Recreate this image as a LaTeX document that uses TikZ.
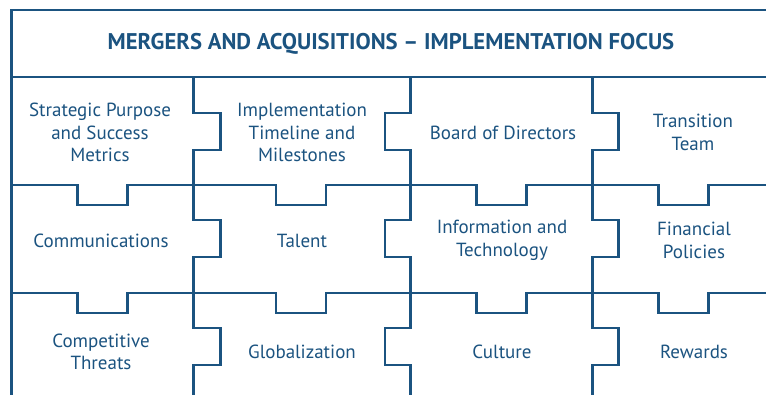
\documentclass[tikz,border=0pt]{standalone}
\usepackage{fontspec}
\setmainfont{PT Sans}
\definecolor{mablue}{RGB}{27,83,128}
\begin{document}
\begin{tikzpicture}[x=1pt,y=-1pt,
  grid/.style={draw=mablue, line width=2.8pt, line join=miter},
  lbl/.style={text=mablue, align=center, font=\fontsize{19}{22.5}\selectfont, inner sep=0pt},
  ttl/.style={text=mablue, font=\fontsize{22.7}{24}\selectfont\bfseries, inner sep=0pt}]
\useasboundingbox (0,0) rectangle (766,395);
\draw[grid] (11.5,395) -- (11.5,10) -- (766,10);
\draw[grid] (11.5,77) -- (766,77);
\foreach \y in {185,293} {
  \draw[grid] (11.5,\y) foreach \a in {77.7,276,476.7,658.7} { -- (\a,\y) -- (\a,\y+20) -- (\a+50,\y+20) -- (\a+50,\y) } -- (766,\y);
}
\foreach \x/\d in {193.3/27, 410.7/-25.7, 592.7/26} {
  \draw[grid] (\x,77) foreach \t in {113,220,328} { -- (\x,\t) -- (\x+\d,\t) -- (\x+\d,\t+37) -- (\x,\t+37) } -- (\x,395);
}
\node[ttl] (title) at (391,43.5) {MERGERS AND ACQUISITIONS – IMPLEMENTATION FOCUS};
\node[lbl] (a1) at (100,132.5) {Strategic Purpose\\and Success\\Metrics};
\node[lbl] (a2) at (302,132.5) {Implementation\\Timeline and\\Milestones};
\node[lbl] (a3) at (503,132.5) {Board of Directors};
\node[lbl] (a4) at (693,132.5) {Transition\\Team};
\node[lbl] (b1) at (101,240.5) {Communications};
\node[lbl] (b2) at (302,240.5) {Talent};
\node[lbl] (b3) at (502,240.5) {Information and\\Technology};
\node[lbl] (b4) at (694,240.5) {Financial\\Policies};
\node[lbl] (c1) at (101,352) {Competitive\\Threats};
\node[lbl] (c2) at (302,352) {Globalization};
\node[lbl] (c3) at (502,352) {Culture};
\node[lbl] (c4) at (694,352) {Rewards};
\end{tikzpicture}
\end{document}
